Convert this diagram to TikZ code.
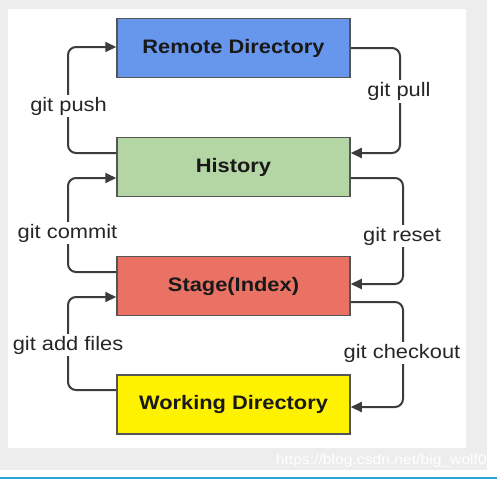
\documentclass[tikz,border=0pt]{standalone}
\usepackage{fontspec}
\setmainfont{Liberation Sans}
\newfontfamily\lsans[FakeStretch=1.12]{Liberation Sans}
\usetikzlibrary{arrows.meta}
\definecolor{bggray}{HTML}{EDEDED}
\definecolor{cblue}{HTML}{6797EC}
\definecolor{cgreen}{HTML}{B4D5A4}
\definecolor{cred}{HTML}{EA7264}
\definecolor{cyellow}{HTML}{FFF200}
\definecolor{linec}{HTML}{3C3C3C}
\definecolor{boxline}{HTML}{555555}
\definecolor{barblue}{HTML}{2AA6D6}
\tikzset{
  stagebox/.style={draw=boxline, line width=1.5pt, minimum width=233pt, minimum height=59pt, inner sep=0pt,
    font=\lsans\fontsize{19.5}{22}\selectfont\bfseries, text=black!90},
  conn/.style={draw=linec, line width=2pt, rounded corners=8pt, -{Triangle[length=11pt,width=10pt]}},
  cmdlabel/.style={fill=white, inner sep=2pt, font=\lsans\fontsize{19.5}{22}\selectfont, text=black!85}
}
\begin{document}
\begin{tikzpicture}[x=1pt,y=-1pt]
\useasboundingbox (0,0) rectangle (497,480);
\fill[white] (0,0) rectangle (497,480);
\fill[bggray] (0,0) rectangle (487,470);
\fill[white] (8,9) rectangle (466,448);
\draw[barblue, line width=2pt] (0,478) -- (497,478);

\node[stagebox, fill=cblue] (remote) at (233.5,48) {Remote Directory};
\node[stagebox, fill=cgreen] (hist) at (233.5,167) {History};
\node[stagebox, fill=cred] (stage) at (233.5,286) {Stage(Index)};
\node[stagebox, fill=cyellow] (work) at (233.5,404.5) {Working Directory};

\coordinate (L) at (68,0);
\coordinate (R1) at (400,0);
\coordinate (R2) at (403,0);

% git push
\coordinate (pushA) at ([yshift=14pt]hist.west);
\coordinate (pushB) at ([yshift=1pt]remote.west);
\draw[conn] (pushA) -| (L |- pushB) -- (pushB);
% git pull
\coordinate (pullA) at (remote.east);
\coordinate (pullB) at ([yshift=14pt]hist.east);
\draw[conn] (pullA) -| (R1 |- pullB) -- (pullB);
% git commit
\coordinate (comA) at ([yshift=14pt]stage.west);
\coordinate (comB) at ([yshift=-11pt]hist.west);
\draw[conn] (comA) -| (L |- comB) -- (comB);
% git reset
\coordinate (resA) at ([yshift=-11pt]hist.east);
\coordinate (resB) at ([yshift=2pt]stage.east);
\draw[conn] (resA) -| (R2 |- resB) -- (resB);
% git add files
\coordinate (addA) at ([yshift=14.5pt]work.west);
\coordinate (addB) at ([yshift=-11pt]stage.west);
\draw[conn] (addA) -| (L |- addB) -- (addB);
% git checkout
\coordinate (chkA) at ([yshift=-16pt]stage.east);
\coordinate (chkB) at ([yshift=-2.5pt]work.east);
\draw[conn] (chkA) -| (R2 |- chkB) -- (chkB);

\node[cmdlabel] (lpush) at (68.5,106) {git push};
\node[cmdlabel] (lpull) at (399,91.5) {git pull};
\node[cmdlabel] (lcommit) at (67.5,233) {git commit};
\node[cmdlabel] (lreset) at (402,236) {git reset};
\node[cmdlabel] (ladd) at (68,345) {git add files};
\node[cmdlabel] (lcheck) at (402,353) {git checkout};

\node[anchor=east, inner sep=0pt, text=white, font=\lsans\fontsize{14}{16}\selectfont] (wm) at (487,461) {https://blog.csdn.net/big\_wolf0};
\end{tikzpicture}
\end{document}
